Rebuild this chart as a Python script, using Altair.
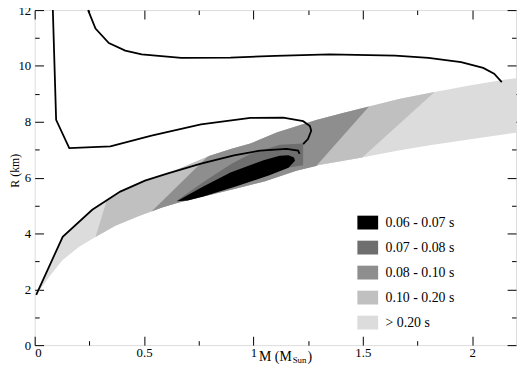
import altair as alt
import pandas as pd

# ---------------- data ----------------
# mass-radius curves (M in M_sun, R in km)
M1 = [0.244, 0.278, 0.339, 0.414, 0.489, 0.670, 0.895, 1.100, 1.347, 1.648, 1.800, 1.949, 2.050, 2.100, 2.135]
R1 = [12.0, 11.34, 10.82, 10.55, 10.41, 10.29, 10.30, 10.36, 10.41, 10.37, 10.29, 10.14, 9.93, 9.72, 9.42]

M2 = [0.083, 0.098, 0.158, 0.346, 0.534, 0.760, 0.986, 1.136, 1.227, 1.258, 1.264, 1.249, 1.227]
R2 = [12.0, 8.07, 7.06, 7.12, 7.50, 7.91, 8.14, 8.15, 8.02, 7.85, 7.68, 7.38, 7.20]

M3 = [0.007, 0.128, 0.263, 0.391, 0.504, 0.609, 0.760, 0.911, 1.031, 1.151, 1.204, 1.211]
R3 = [1.80, 3.88, 4.85, 5.50, 5.89, 6.15, 6.50, 6.80, 6.97, 7.03, 6.97, 6.85]

# allowed band: upper and lower edges
UP_M = [0.007, 0.128, 0.263, 0.391, 0.504, 0.609, 0.70, 0.80, 0.90, 0.986, 1.106, 1.20, 1.287, 1.40, 1.528, 1.67, 1.828, 2.00, 2.16, 2.20]
UP_R = [1.80, 3.88, 4.85, 5.50, 5.89, 6.15, 6.45, 6.78, 7.03, 7.22, 7.62, 7.85, 8.06, 8.30, 8.55, 8.82, 9.07, 9.32, 9.52, 9.56]
LO_M = [0.007, 0.068, 0.128, 0.203, 0.278, 0.369, 0.474, 0.579, 0.655, 0.80, 0.926, 1.05, 1.196, 1.30, 1.497, 1.65, 1.798, 2.00, 2.20]
LO_R = [1.80, 2.47, 3.05, 3.52, 3.87, 4.28, 4.62, 4.92, 5.10, 5.38, 5.62, 5.86, 6.25, 6.45, 6.72, 6.95, 7.15, 7.38, 7.61]

# period-contour boundaries across the band: (M_low, R_low, M_up, R_up)
B1 = (0.278, 3.87, 0.330, 5.20)   # >0.20 | 0.10-0.20 (low mass side)
B2 = (0.534, 4.79, 0.790, 6.75)   # 0.10-0.20 | 0.08-0.10
B4 = (1.287, 6.42, 1.528, 8.55)   # 0.08-0.10 | 0.10-0.20 (high mass side)
B5 = (1.497, 6.72, 1.828, 9.07)   # 0.10-0.20 | >0.20

# 0.07 - 0.08 s region (grid) outline
G_M = [0.647, 0.775, 0.900, 0.986, 1.121, 1.227, 1.227, 1.136, 1.000, 0.850, 0.700]
G_R = [5.16, 5.86, 6.50, 6.85, 7.18, 7.22, 6.44, 6.33, 5.98, 5.62, 5.22]

# 0.06 - 0.07 s region (black) outline
E_M = [0.650, 0.700, 0.775, 0.895, 1.046, 1.120, 1.160, 1.185, 1.190, 1.160, 1.076, 0.926, 0.775, 0.700]
E_R = [5.15, 5.38, 5.70, 6.18, 6.62, 6.78, 6.80, 6.72, 6.60, 6.35, 6.09, 5.70, 5.33, 5.18]

PERIODS = ["0.06 - 0.07 s", "0.07 - 0.08 s", "0.08 - 0.10 s", "0.10 - 0.20 s", "\u2002\u2002> 0.20 s"]
FILLS = ["#000000", "#6e6e6e", "#8e8e8e", "#c0c0c0", "#dcdcdc"]

X_MAJOR = [0, 0.5, 1, 1.5, 2]
X_MINOR = [0.25, 0.75, 1.25, 1.75]
Y_MAJOR = [0, 2, 4, 6, 8, 10, 12]
Y_MINOR = [1, 3, 5, 7, 9, 11]


# ---------------- tables ----------------
def between(b_left, b_right):
    ms, rs = [b_left[0], b_left[2]], [b_left[1], b_left[3]]
    for m, r in zip(UP_M, UP_R):
        if b_left[2] < m < b_right[2]:
            ms.append(m); rs.append(r)
    ms += [b_right[2], b_right[0]]
    rs += [b_right[3], b_right[1]]
    for m, r in reversed(list(zip(LO_M, LO_R))):
        if b_left[0] < m < b_right[0]:
            ms.append(m); rs.append(r)
    return ms, rs


rows = []
def add(label, ms, rs):
    for i, (m, r) in enumerate(zip(ms, rs)):
        rows.append({"M": m, "R": r, "period": label, "o": i})

add(PERIODS[4], UP_M + LO_M[::-1], UP_R + LO_R[::-1])
add(PERIODS[3], *between(B1, B5))
add(PERIODS[2], *between(B2, B4))
add(PERIODS[1], G_M, G_R)
add(PERIODS[0], E_M, E_R)
regions = pd.DataFrame(rows)

lrows = []
for name, ms, rs in [("a", M1, R1), ("b", M2, R2), ("c", M3, R3)]:
    for i, (m, r) in enumerate(zip(ms, rs)):
        lrows.append({"M": m, "R": r, "curve": name, "o": i})
curves = pd.DataFrame(lrows)

FONT = "Liberation Serif"
xs = alt.Scale(domain=[0, 2.2], nice=False, zero=False)
ys = alt.Scale(domain=[0, 12], nice=False, zero=False)

fill = alt.Fill(
    "period:N",
    scale=alt.Scale(domain=PERIODS, range=FILLS),
    legend=alt.Legend(
        title=None, orient="none", legendX=330, legendY=208, padding=0,
        symbolType="M-1.5,-1H1.5V1H-1.5Z", symbolSize=196, symbolStrokeWidth=0,
        symbolOpacity=1, labelFont=FONT, labelFontSize=14, labelColor="black",
        labelOffset=11, rowPadding=11.3,
    ),
)


def tick_axis(orient, values, size):
    return alt.Axis(orient=orient, values=values, labels=False, domain=False, grid=False,
                    tickSize={"expr": str(-size)}, tickColor="black", tickWidth=1, title=None)


ax_x_lab = alt.Axis(orient="bottom", values=X_MAJOR, format="~g", ticks=False, domain=False,
                    grid=False, labelPadding=2, labelFont=FONT, labelFontSize=13,
                    labelColor="black", title=None)
ax_y_lab = alt.Axis(orient="left", values=Y_MAJOR, format="~g", ticks=False, domain=False,
                    grid=False, labelPadding=4, labelFont=FONT, labelFontSize=13,
                    labelColor="black", title="R (km)", titleFont=FONT, titleFontSize=12,
                    titleFontWeight="normal", titleColor="black", titleX=-16, titleY=162,
                    titleBaseline="alphabetic", titleAngle=270)


def region_layer(idx, xaxis, yaxis):
    return alt.Chart(regions).transform_filter(
        alt.datum.period == PERIODS[idx]
    ).mark_line(interpolate="linear-closed", strokeOpacity=0, strokeWidth=0).encode(
        x=alt.X("M:Q", scale=xs, axis=xaxis),
        y=alt.Y("R:Q", scale=ys, axis=yaxis),
        fill=fill,
        order="o:Q",
    )


l_band = region_layer(4, ax_x_lab, ax_y_lab)
l_slow = region_layer(3, tick_axis("bottom", X_MAJOR, 9), tick_axis("left", Y_MAJOR, 9))
l_mid = region_layer(2, tick_axis("bottom", X_MINOR, 4.5), tick_axis("left", Y_MINOR, 4.5))
l_grid = region_layer(1, tick_axis("top", X_MAJOR, 9), tick_axis("right", Y_MAJOR, 9))
l_fast = region_layer(0, tick_axis("top", X_MINOR, 4.5), tick_axis("right", Y_MINOR, 4.5))

l_curves = alt.Chart(curves).mark_line(color="black", strokeWidth=1.8).encode(
    x=alt.X("M:Q", scale=xs, axis=None),
    y=alt.Y("R:Q", scale=ys, axis=None),
    detail="curve:N",
    order="o:Q",
)

title_df = pd.DataFrame({"t": ["M (M", "Sun", ")"]})
t_main = alt.Chart(title_df).transform_filter(alt.datum.t == "M (M").mark_text(
    font=FONT, fontSize=14, align="left", baseline="alphabetic", color="black"
).encode(text="t:N", x=alt.value(227), y=alt.value(355))
t_sub = alt.Chart(title_df).transform_filter(alt.datum.t == "Sun").mark_text(
    font=FONT, fontSize=9, align="left", baseline="alphabetic", color="black"
).encode(text="t:N", x=alt.value(261), y=alt.value(357))
t_end = alt.Chart(title_df).transform_filter(alt.datum.t == ")").mark_text(
    font=FONT, fontSize=14, align="left", baseline="alphabetic", color="black"
).encode(text="t:N", x=alt.value(276), y=alt.value(355))

chart = alt.layer(
    l_band, l_slow, l_mid, l_grid, l_fast, l_curves, t_main, t_sub, t_end
).resolve_axis(x="independent", y="independent").properties(
    width=487, height=339,
    autosize=alt.AutoSizeParams(type="none"),
    padding={"left": 27, "top": 0, "right": 1, "bottom": 19},
).configure_view(stroke="black", strokeWidth=1).configure(font=FONT)

chart.save("out.html", embed_options={"renderer": "svg", "actions": False})
